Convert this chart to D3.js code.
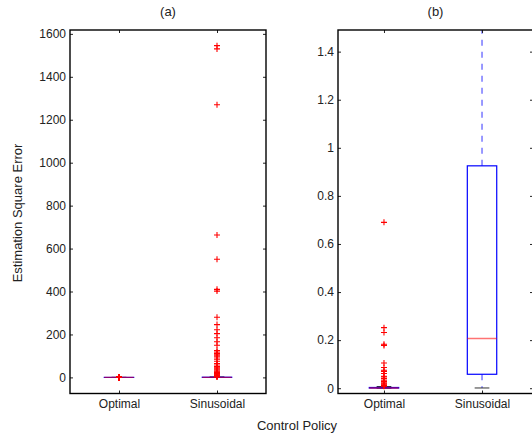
<!DOCTYPE html>
<html>
<head>
<meta charset="utf-8">
<script src="https://cdn.jsdelivr.net/npm/d3@7"></script>
<style>
  body { margin: 0; background: #fff; }
  svg { display: block; font-family: "Liberation Sans", Arial, sans-serif; }
</style>
</head>
<body>
<script>
// box statistics, one entry per control policy
var categories = ["Optimal", "Sinusoidal"];
var q1 = [0.0005, 0.058];
var medians = [0.001, 0.207];
var q3 = [0.003, 0.925];
var whiskerLow = [0, 0.001];
var whiskerHigh = [0.007, 2.2];

// outliers
var outliersOptimal = [0.69, 0.252, 0.232, 0.183, 0.178, 0.105, 0.086, 0.075, 0.07,
  0.061, 0.05, 0.047, 0.04, 0.033, 0.028, 0.022, 0.018, 0.014, 0.011, 0.009, 0.008];
var outliersSinusoidal = [1545, 1530, 1270, 663, 550, 410, 402, 280, 246, 222, 204,
  185, 166, 150, 125, 118, 112, 105, 100, 95, 85, 75, 65, 58, 50, 45, 40, 35, 30, 26,
  22, 18, 15, 12, 10, 8, 6, 5, 4, 3, 2.5];

var ticksA = [0, 200, 400, 600, 800, 1000, 1200, 1400, 1600];
var ticksB = [0, 0.2, 0.4, 0.6, 0.8, 1, 1.2, 1.4];

var W = 532, H = 434;
var svg = d3.select("body").append("svg").attr("width", W).attr("height", H);

var outliers = [outliersOptimal, outliersSinusoidal];
var boxes = categories.map(function(c, i) {
  return { name: c, pos: i + 1, q1: q1[i], med: medians[i], q3: q3[i],
    lo: whiskerLow[i], hi: whiskerHigh[i], out: outliers[i] };
});

function panel(id, title, left, right, xDomain, yDomain, ticks) {
  var top = 30, bottom = 393.5;
  var x = d3.scaleLinear().domain(xDomain).range([left, right]);
  var y = d3.scaleLinear().domain(yDomain).range([bottom, top]);
  var g = svg.append("g");

  g.append("clipPath").attr("id", id).append("rect")
    .attr("x", left).attr("y", top).attr("width", right - left).attr("height", bottom - top);

  var boxW = 0.3, capW = 0.15;
  var plot = g.append("g").attr("clip-path", "url(#" + id + ")");
  var b = plot.selectAll(".box").data(boxes).enter().append("g");

  // whiskers
  b.append("line").attr("x1", function(d) { return x(d.pos); }).attr("x2", function(d) { return x(d.pos); })
    .attr("y1", function(d) { return y(d.q3); }).attr("y2", function(d) { return y(d.hi); })
    .attr("stroke", "#5555ff").attr("stroke-width", 1.2).attr("stroke-dasharray", "6,6");
  b.append("line").attr("x1", function(d) { return x(d.pos); }).attr("x2", function(d) { return x(d.pos); })
    .attr("y1", function(d) { return y(d.q1); }).attr("y2", function(d) { return y(d.lo); })
    .attr("stroke", "#5555ff").attr("stroke-width", 1.2).attr("stroke-dasharray", "6,6");
  // caps
  ["lo", "hi"].forEach(function(k) {
    b.append("line")
      .attr("x1", function(d) { return x(d.pos - capW / 2); })
      .attr("x2", function(d) { return x(d.pos + capW / 2); })
      .attr("y1", function(d) { return y(d[k]); }).attr("y2", function(d) { return y(d[k]); })
      .attr("stroke", "#333").attr("stroke-width", 1);
  });
  // box
  b.append("rect")
    .attr("x", function(d) { return x(d.pos - boxW / 2); })
    .attr("width", x(1 + boxW) - x(1))
    .attr("y", function(d) { return y(d.q3); })
    .attr("height", function(d) { return Math.max(0, y(d.q1) - y(d.q3)); })
    .attr("fill", "none").attr("stroke", "#0000ff").attr("stroke-width", 1.2);
  // median
  b.append("line")
    .attr("x1", function(d) { return x(d.pos - boxW / 2); })
    .attr("x2", function(d) { return x(d.pos + boxW / 2); })
    .attr("y1", function(d) { return y(d.med); }).attr("y2", function(d) { return y(d.med); })
    .attr("stroke", "#ff0000").attr("stroke-opacity", 0.55).attr("stroke-width", 1.4);
  // outliers
  b.selectAll(".o").data(function(d) { return d.out.map(function(v) { return { pos: d.pos, v: v }; }); })
    .enter().append("path")
    .attr("d", function(d) {
      var cx = x(d.pos), cy = y(d.v), s = 3;
      return "M" + (cx - s) + "," + cy + "H" + (cx + s) + "M" + cx + "," + (cy - s) + "V" + (cy + s);
    })
    .attr("stroke", "#ff0000").attr("stroke-width", 1.1).attr("fill", "none");

  // axes with inward ticks
  var fmt = function(d) { return String(d); };
  var ax = [
    g.append("g").attr("transform", "translate(" + left + ",0)")
      .call(d3.axisLeft(y).tickValues(ticks).tickFormat(fmt).tickSize(-3).tickPadding(4)),
    g.append("g").attr("transform", "translate(" + right + ",0)")
      .call(d3.axisRight(y).tickValues(ticks).tickFormat("").tickSize(-3)),
    g.append("g").attr("transform", "translate(0," + bottom + ")")
      .call(d3.axisBottom(x).tickValues([1, 2]).tickFormat(function(d) { return categories[d - 1]; })
        .tickSize(-3).tickPadding(6)),
    g.append("g").attr("transform", "translate(0," + top + ")")
      .call(d3.axisTop(x).tickValues([1, 2]).tickFormat("").tickSize(-3))
  ];
  ax.forEach(function(a) {
    a.select(".domain").remove();
    a.selectAll("text").attr("font-size", 12).attr("fill", "#222")
      .style("font-family", "'Liberation Sans', Arial, sans-serif");
    a.selectAll("line").attr("stroke", "#222");
  });

  g.append("rect").attr("x", left).attr("y", top).attr("width", right - left).attr("height", bottom - top)
    .attr("fill", "none").attr("stroke", "#000").attr("stroke-width", 1.4);

  g.append("text").attr("x", (left + right) / 2).attr("y", 16).attr("text-anchor", "middle")
    .attr("font-size", 13).attr("fill", "#222").text(title);
}

panel("clipA", "(a)", 70, 266, [0.5, 2.5], [-75, 1618], ticksA);
panel("clipB", "(b)", 338, 533, [0.531, 2.52], [-0.022, 1.49], ticksB);

svg.append("text").attr("transform", "translate(22,213) rotate(-90)")
  .attr("text-anchor", "middle").attr("font-size", 13).attr("fill", "#222")
  .text("Estimation Square Error");
svg.append("text").attr("x", 297).attr("y", 430).attr("text-anchor", "middle")
  .attr("font-size", 13).attr("fill", "#222").text("Control Policy");
</script>
</body>
</html>
